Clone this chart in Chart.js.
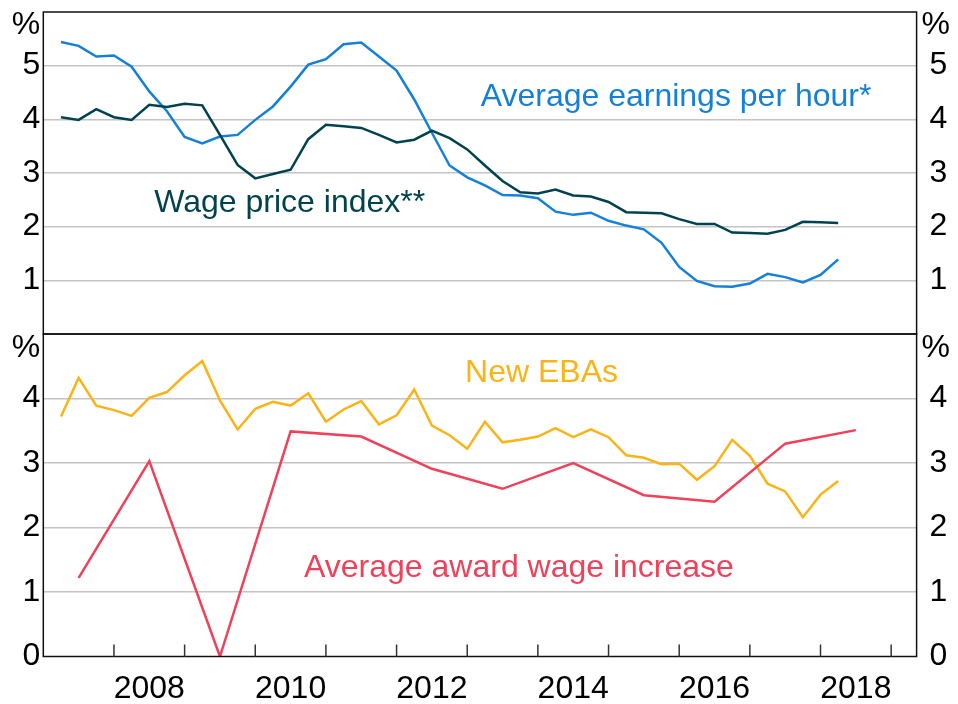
<!DOCTYPE html>
<html><head><meta charset="utf-8">
<script src="https://cdn.jsdelivr.net/npm/chart.js@4"></script>
<style>
html,body{margin:0;padding:0;background:#fff;}
#wrap{position:relative;width:958px;height:704px;overflow:hidden;background:#fff;}
#c1{position:absolute;left:0;top:0;}
#c2{position:absolute;left:0;top:322px;}
</style></head><body>
<div id="wrap">
<canvas id="c1" width="958" height="340"></canvas>
<canvas id="c2" width="958" height="382"></canvas>
</div>
<script>
// ---- data ----
const quarters = ['2007-Q1','2007-Q2','2007-Q3','2007-Q4','2008-Q1','2008-Q2','2008-Q3','2008-Q4',
'2009-Q1','2009-Q2','2009-Q3','2009-Q4','2010-Q1','2010-Q2','2010-Q3','2010-Q4',
'2011-Q1','2011-Q2','2011-Q3','2011-Q4','2012-Q1','2012-Q2','2012-Q3','2012-Q4',
'2013-Q1','2013-Q2','2013-Q3','2013-Q4','2014-Q1','2014-Q2','2014-Q3','2014-Q4',
'2015-Q1','2015-Q2','2015-Q3','2015-Q4','2016-Q1','2016-Q2','2016-Q3','2016-Q4',
'2017-Q1','2017-Q2','2017-Q3','2017-Q4','2018-Q1'];
const earningsPerHour = [5.44,5.37,5.17,5.19,4.98,4.52,4.15,3.67,
3.55,3.68,3.71,3.99,4.24,4.61,5.02,5.12,
5.40,5.43,5.17,4.91,4.37,3.75,3.14,2.92,
2.77,2.59,2.58,2.53,2.28,2.22,2.26,2.11,
2.02,1.95,1.70,1.25,0.99,0.89,0.88,0.94,
1.12,1.06,0.96,1.10,1.39];
const wagePriceIndex = [4.04,3.99,4.19,4.04,3.99,4.27,4.23,4.29,
4.26,3.71,3.15,2.90,2.98,3.06,3.63,3.90,
3.87,3.84,3.71,3.57,3.62,3.79,3.65,3.44,
3.14,2.85,2.64,2.62,2.69,2.58,2.56,2.46,
2.27,2.26,2.25,2.14,2.05,2.05,1.89,1.88,
1.87,1.94,2.09,2.08,2.07];
const newEBAs = [3.72,4.32,3.89,3.82,3.73,4.01,4.10,4.36,
4.58,3.97,3.52,3.84,3.95,3.89,4.08,3.64,
3.83,3.96,3.60,3.74,4.14,3.58,3.43,3.22,
3.64,3.32,3.36,3.41,3.54,3.40,3.52,3.40,
3.12,3.08,2.98,2.99,2.74,2.95,3.36,3.11,
2.68,2.56,2.16,2.51,2.72];
const awardYears = [2007,2008,2009,2010,2011,2012,2013,2014,2015,2016,2017,2018];
const awardWageIncrease = [1.22,3.03,0.0,3.49,3.41,2.91,2.60,3.00,2.50,2.40,3.30,3.51];
const topTickValues = [1,2,3,4,5];
const bottomTickValues = [0,1,2,3,4];
const xLabelYears = [2008,2010,2012,2014,2016,2018];
const xTickYears = [2008,2009,2010,2011,2012,2013,2014,2015,2016,2017,2018,2019];

// ---- helpers ----
const FAMILY = 'Arial, "Liberation Sans", sans-serif';
const FS = 32;
const C_BLUE = '#1580d8', C_TEAL = '#00434f', C_ORANGE = '#fcb316', C_RED = '#f0405a';
const qx = q => { const p = q.split('-Q'); return +p[0] + (+p[1]) / 4; };
const pts = (xs, ys) => ys.map((v, i) => ({x: xs[i], y: v}));
const qX = quarters.map(qx);
const aX = awardYears.map(y => y + 0.5);
const X_MIN = 2007, X_MAX = 2019.36;
const LEFT_W = 43.3, RIGHT_W = 958 - 916.6;

function zeroPad(s) { s.paddingTop = 0; s.paddingBottom = 0; s.paddingLeft = 0; s.paddingRight = 0; }

function yScale(max, tickVals, side) {
  const left = side === 'left';
  return {
    min: 0, max: max, position: side,
    afterFit: s => { s.width = left ? LEFT_W : RIGHT_W; zeroPad(s); },
    afterBuildTicks: s => { s.ticks = tickVals.map(v => ({value: v})); },
    border: {display: false},
    grid: left ? {drawTicks: false, lineWidth: 1.5,
                  color: c => (c.tick && (c.tick.value === 0 || c.tick.value === max)) ? 'rgba(0,0,0,0)' : '#c4c4c4'}
               : {display: false},
    ticks: {font: {family: FAMILY, size: FS}, color: '#000', padding: left ? 3 : 5, autoSkip: false}
  };
}

function makePanelPlugin(cfg) {
  return {
    id: 'panel',
    afterDatasetsDraw(chart) {
      const ctx = chart.ctx, a = chart.chartArea;
      const xs = chart.scales.x, ys = chart.scales.y;
      ctx.save();
      ctx.strokeStyle = '#111';
      ctx.lineWidth = 1.5;
      ctx.strokeRect(a.left, a.top, a.right - a.left, a.bottom - a.top);
      if (cfg.tickMarks) {
        ctx.strokeStyle = '#333';
        ctx.lineWidth = 1.5;
        xTickYears.forEach(yr => {
          const px = xs.getPixelForValue(yr);
          ctx.beginPath();
          ctx.moveTo(px, a.bottom);
          ctx.lineTo(px, a.bottom - 12);
          ctx.stroke();
        });
      }
      ctx.font = FS + 'px ' + FAMILY;
      ctx.fillStyle = '#000';
      ctx.textBaseline = 'middle';
      ctx.textAlign = 'right';
      ctx.fillText('%', a.left - 3, a.top + cfg.pctOffset);
      ctx.textAlign = 'left';
      ctx.fillText('%', a.right + 5, a.top + cfg.pctOffset);
      ctx.textBaseline = 'alphabetic';
      cfg.labels.forEach(l => {
        ctx.fillStyle = l.color;
        ctx.fillText(l.text, xs.getPixelForValue(l.x), ys.getPixelForValue(l.y));
      });
      ctx.restore();
    }
  };
}

function lineDs(label, data, color) {
  return {label, data, borderColor: color, backgroundColor: color,
          borderWidth: 2.5, pointRadius: 0, tension: 0, yAxisID: 'y'};
}

// ---- top panel ----
new Chart(document.getElementById('c1'), {
  type: 'line',
  data: {datasets: [
    lineDs('Wage price index**', pts(qX, wagePriceIndex), C_TEAL),
    lineDs('Average earnings per hour*', pts(qX, earningsPerHour), C_BLUE)
  ]},
  options: {
    responsive: false, animation: false, devicePixelRatio: 1,
    layout: {padding: {top: 12, bottom: 6, left: 0, right: 0}},
    plugins: {legend: {display: false}, tooltip: {enabled: false}},
    scales: {
      x: {type: 'linear', min: X_MIN, max: X_MAX, display: false},
      y: yScale(6, topTickValues, 'left'),
      y2: yScale(6, topTickValues, 'right')
    }
  },
  plugins: [makePanelPlugin({
    tickMarks: false, pctOffset: 13,
    labels: [
      {text: 'Average earnings per hour*', x: 2013.19, y: 4.25, color: C_BLUE},
      {text: 'Wage price index**', x: 2008.57, y: 2.28, color: C_TEAL}
    ]
  })]
});

// ---- bottom panel ----
new Chart(document.getElementById('c2'), {
  type: 'line',
  data: {datasets: [
    lineDs('Average award wage increase', pts(aX, awardWageIncrease), C_RED),
    lineDs('New EBAs', pts(qX, newEBAs), C_ORANGE)
  ]},
  options: {
    responsive: false, animation: false, devicePixelRatio: 1,
    layout: {padding: {top: 12, bottom: 0, left: 0, right: 0}},
    plugins: {legend: {display: false}, tooltip: {enabled: false}},
    scales: {
      x: {
        type: 'linear', min: X_MIN, max: X_MAX, position: 'bottom',
        afterFit: s => { s.height = 47.5; zeroPad(s); },
        afterBuildTicks: s => { s.ticks = xLabelYears.map(y => ({value: y + 0.5})); },
        border: {display: false},
        grid: {display: false},
        ticks: {font: {family: FAMILY, size: FS}, color: '#000', padding: 5,
                autoSkip: false, maxRotation: 0,
                callback: v => String(Math.floor(v))}
      },
      y: yScale(5, bottomTickValues, 'left'),
      y2: yScale(5, bottomTickValues, 'right')
    }
  },
  plugins: [makePanelPlugin({
    tickMarks: true, pctOffset: 14,
    labels: [
      {text: 'New EBAs', x: 2012.97, y: 4.25, color: C_ORANGE},
      {text: 'Average award wage increase', x: 2010.69, y: 1.24, color: C_RED}
    ]
  })]
});
</script>
</body></html>
